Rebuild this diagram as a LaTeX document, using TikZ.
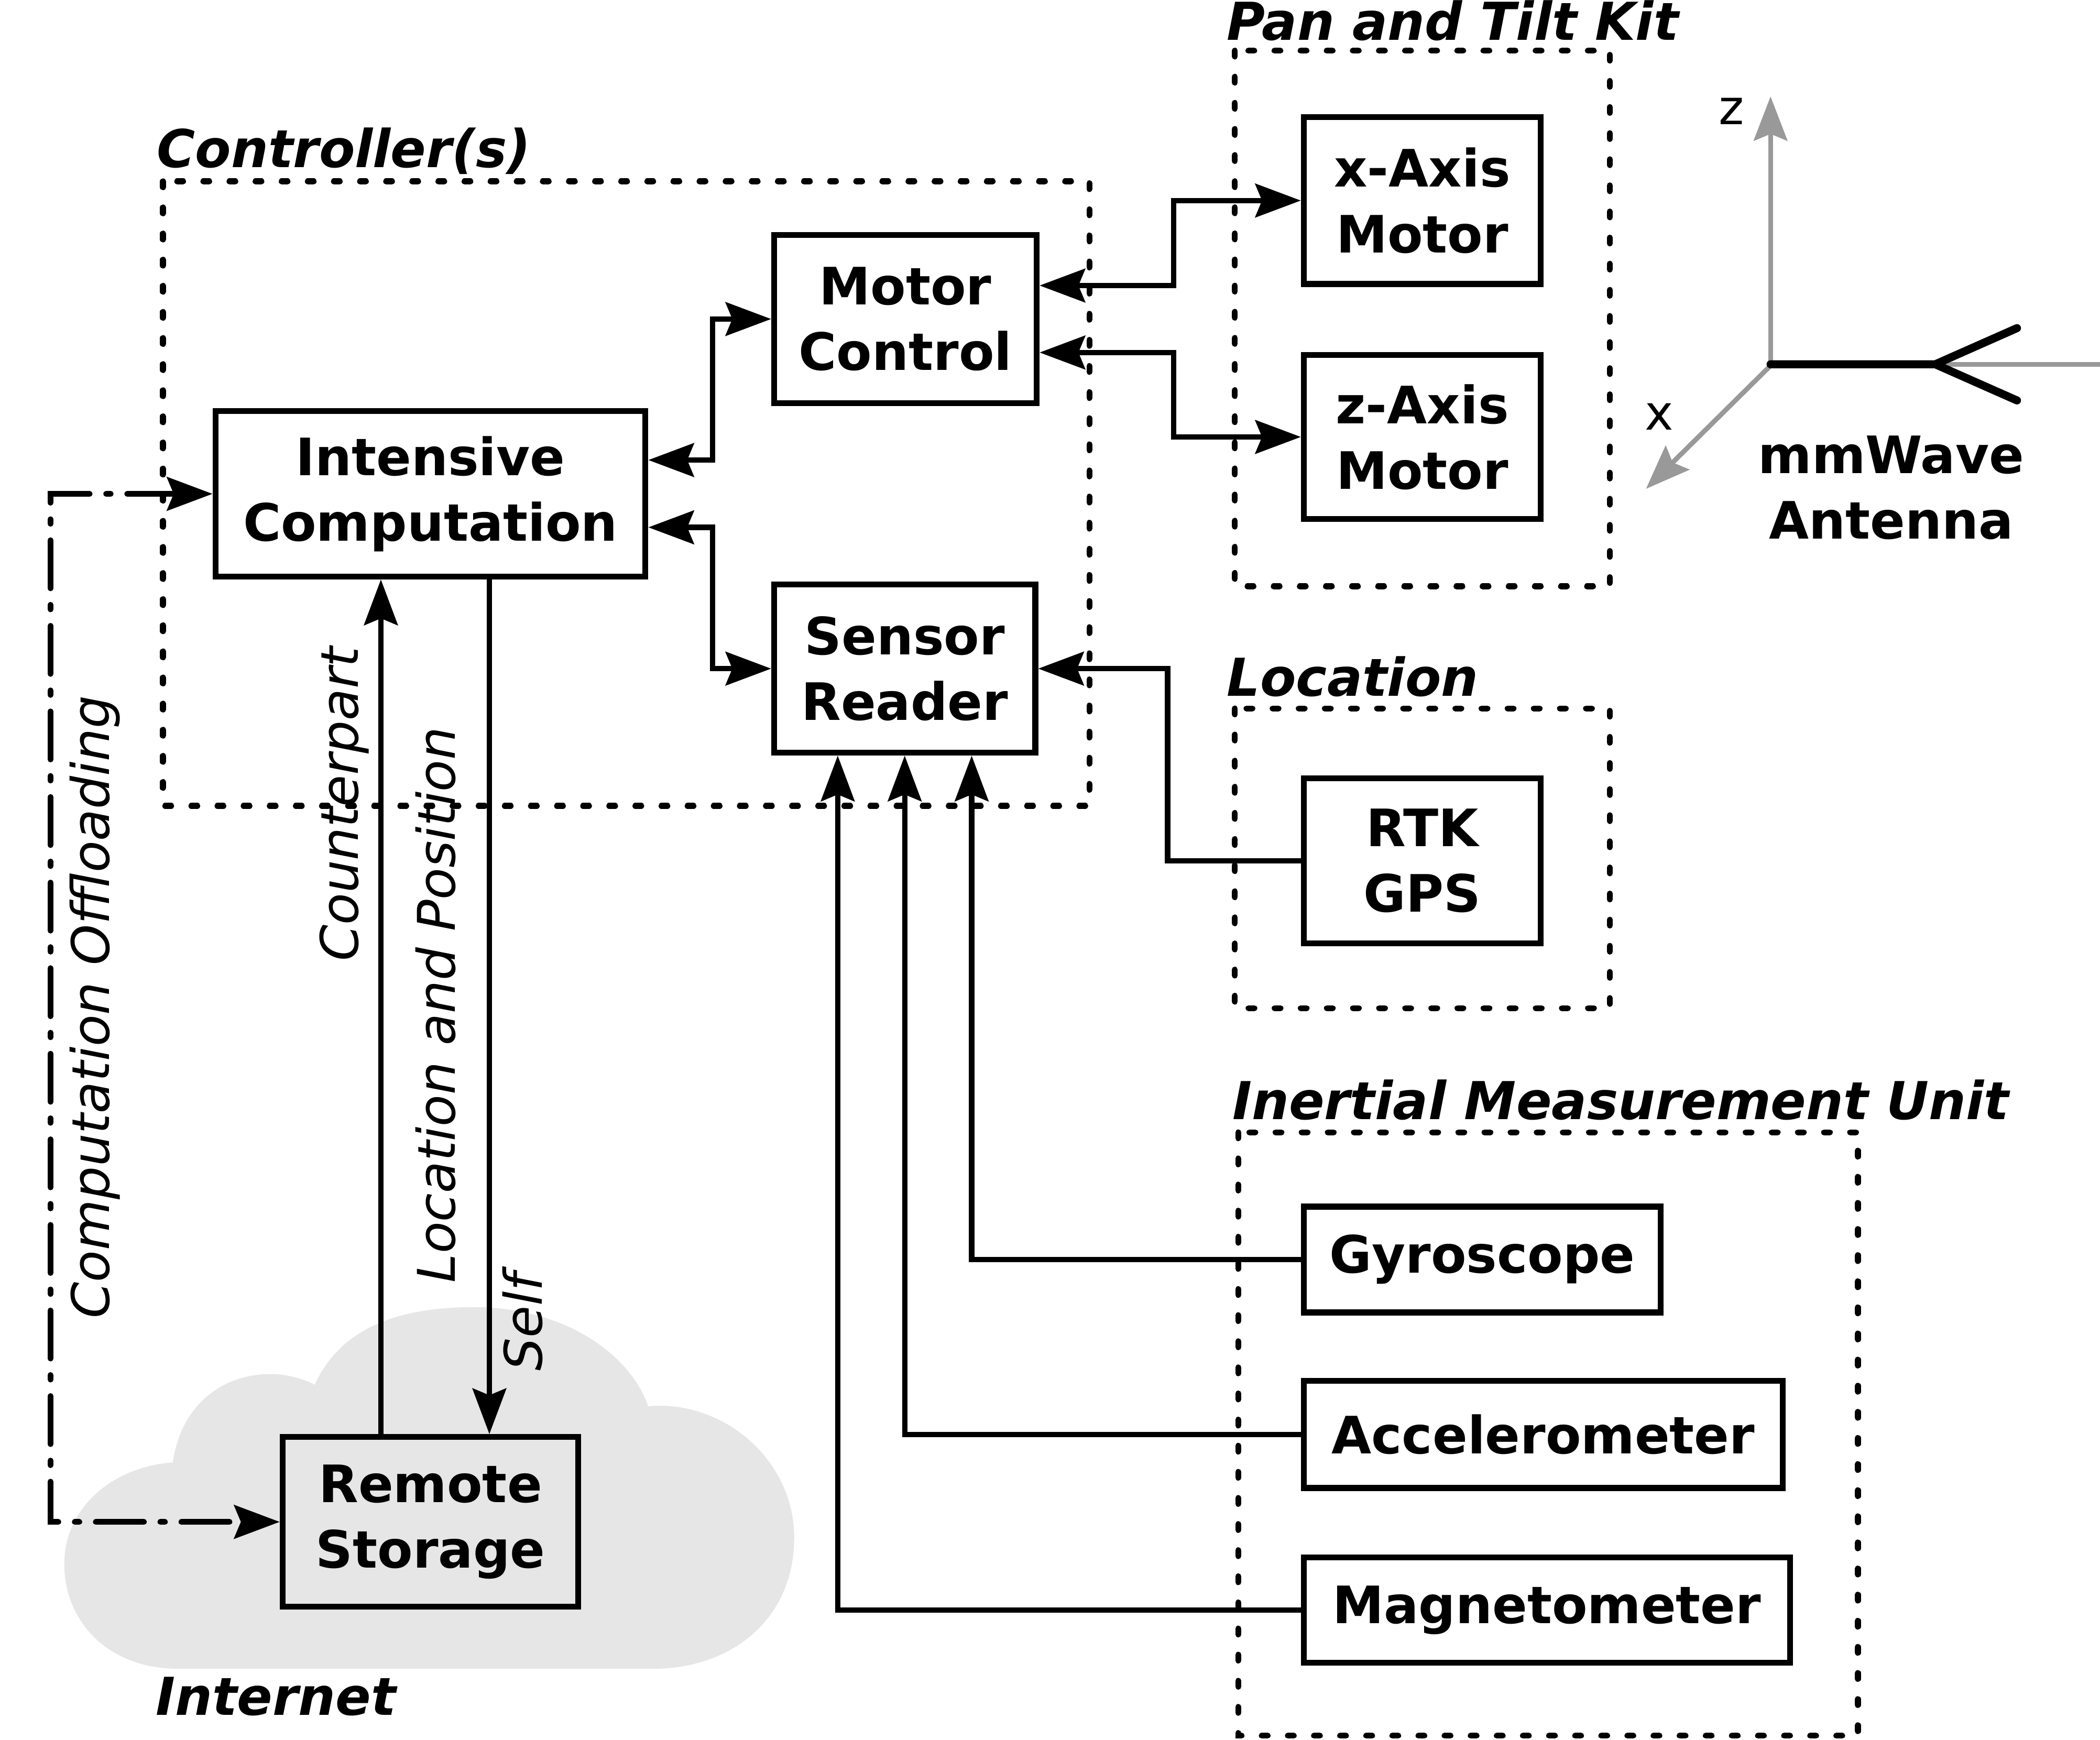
\documentclass[tikz,border=0pt]{standalone}
\usepackage{fontspec}
\setmainfont{DejaVu Sans}
\usetikzlibrary{arrows.meta}
\definecolor{cloudgray}{HTML}{E6E6E6}
\definecolor{axgray}{HTML}{999999}
\newcommand\dgBoxFont{\fontsize{38.5pt}{49pt}\selectfont\bfseries}
\newcommand\dgGrpFont{\fontsize{39pt}{47pt}\selectfont\bfseries\itshape}
\newcommand\dgLblFont{\fontsize{38.8pt}{46pt}\selectfont\itshape}
\newcommand\dgAxFont{\fontsize{36pt}{42pt}\selectfont}
\tikzset{
  box/.style={draw, line width=4.4pt, inner sep=0pt, align=center, font=\dgBoxFont},
  grp/.style={line width=4.4pt, line cap=round, dash pattern=on 4.4pt off 15.1pt},
  ddash/.style={line width=4.2pt, line cap=round, dash pattern=on 36pt off 12.2pt on 3.5pt off 12.2pt},
  conn/.style={line width=4pt},
  axisline/.style={draw=axgray, line width=3.6pt},
  ant/.style={line width=6pt, line cap=round, line join=miter},
  grplabel/.style={anchor=base west, inner sep=0pt, font=\dgGrpFont},
  rotlabel/.style={rotate=90, anchor=base, inner sep=0pt, font=\dgLblFont},
}
\begin{document}
\begin{tikzpicture}[x=1pt, y=-1pt, >={Stealth[length=34pt,width=25pt,inset=5pt]}]
\useasboundingbox (0,0) rectangle (1568,1299.2);

% cloud
\fill[cloudgray] (133,1246)
  .. controls (80,1246) and (48,1210) .. (48,1168)
  .. controls (48,1125) and (85,1095) .. (129,1092)
  .. controls (135,1050) and (165,1026) .. (202,1026)
  .. controls (215,1026) and (228,1030) .. (235,1034)
  .. controls (255,990) and (300,976) .. (354,976)
  .. controls (420,976) and (470,1010) .. (484,1050)
  .. controls (540,1045) and (593,1090) .. (593,1148)
  .. controls (593,1210) and (545,1246) .. (488,1246)
  -- cycle;

% group frames
\draw[grp] (121.7,135.4) rectangle (813.4,601.7);
\draw[grp] (922,37.8) rectangle (1202,437.8);
\draw[grp] (922,529) rectangle (1202,752.8);
\draw[grp] (924.6,845.5) rectangle (1387.2,1296);

% group labels
\node[grplabel] (lctrl) at (117,125) {Controller(s)};
\node[grplabel] (lpan) at (916,30) {Pan and Tilt Kit};
\node[grplabel] (lloc) at (916,519.6) {Location};
\node[grplabel] (limu) at (920,836) {Inertial Measurement Unit};
\node[grplabel] (lnet) at (116,1280.7) {Internet};

% boxes
\node[box, minimum width=321pt, minimum height=123.5pt] (IC) at (321.4,368.75) {Intensive\\Computation};
\node[box, minimum width=196pt, minimum height=125.5pt] (MC) at (676,238.2) {Motor\\Control};
\node[box, minimum width=195pt, minimum height=125.5pt] (SR) at (675.5,499.25) {Sensor\\Reader};
\node[box, minimum width=177pt, minimum height=124.5pt] (XM) at (1062,149.75) {x-Axis\\Motor};
\node[box, minimum width=177pt, minimum height=122.5pt] (ZM) at (1062,326.25) {z-Axis\\Motor};
\node[box, minimum width=177pt, minimum height=123.5pt] (RTK) at (1062,642.75) {RTK\\GPS};
\node[box, minimum width=266.5pt, minimum height=79pt] (GY) at (1106.75,940.5) {Gyroscope};
\node[box, minimum width=357.5pt, minimum height=80pt] (AC) at (1152.25,1071) {Accelerometer};
\node[box, minimum width=363pt, minimum height=78.5pt] (MG) at (1155,1202.25) {Magnetometer};
\node[box, minimum width=220.7pt, minimum height=126.7pt] (RS) at (321.4,1136.35) {Remote\\Storage};

% connectors
\draw[conn,<->] ([yshift=25.25pt]IC.east) -- ++(47.8,0) |- (MC.west);
\draw[conn,<->] ([yshift=-25pt]IC.east) -- ++(47.8,0) |- (SR.west);
\draw[conn,<->] ([yshift=25pt]MC.east) -- ++(100,0) |- (XM.west);
\draw[conn,<->] ([yshift=-25pt]MC.east) -- ++(100,0) |- (ZM.west);
\draw[conn,->] (RTK.west) -- ++(-99.5,0) |- (SR.east);
\draw[conn,->] (GY.west) -| ([xshift=50pt]SR.south);
\draw[conn,->] (AC.west) -| (SR.south);
\draw[conn,->] (MG.west) -| ([xshift=-50pt]SR.south);
\draw[conn,->] ([xshift=-37pt]RS.north) -- ([xshift=-37pt]IC.south);
\draw[conn,->] ([xshift=44pt]IC.south) -- ([xshift=44pt]RS.north);
\draw[ddash,<->] (IC.west) -- ++(-121,0) |- (RS.west);

% connector labels
\node[rotlabel] (lco) at (81.5,752) {Computation Offloading};
\node[rotlabel] (lcp) at (267.4,600.5) {Counterpart};
\node[rotlabel] (llp) at (339.8,750.3) {Location and Position};
\node[rotlabel] (lself) at (404.7,987) {Self};

% antenna and axes
\draw[axisline] (1445,272) -- (1568,272);
\draw[axisline,-{Stealth[length=33pt,width=25pt,inset=5pt]}] (1322,273) -- (1322,72);
\draw[axisline,-{Stealth[length=33pt,width=25pt,inset=5pt]}] (1322,273) -- (1229,365);
\draw[ant] (1322,272) -- (1445,272) -- (1506,245);
\draw[ant] (1445,272) -- (1506,299);
\node[inner sep=0pt, font=\dgAxFont] (zlab) at (1293,83) {z};
\node[inner sep=0pt, font=\dgAxFont] (xlab) at (1239,311) {x};
\node[inner sep=0pt, align=center, font=\dgBoxFont] (antlab) at (1412,364) {mmWave\\Antenna};
\end{tikzpicture}
\end{document}
